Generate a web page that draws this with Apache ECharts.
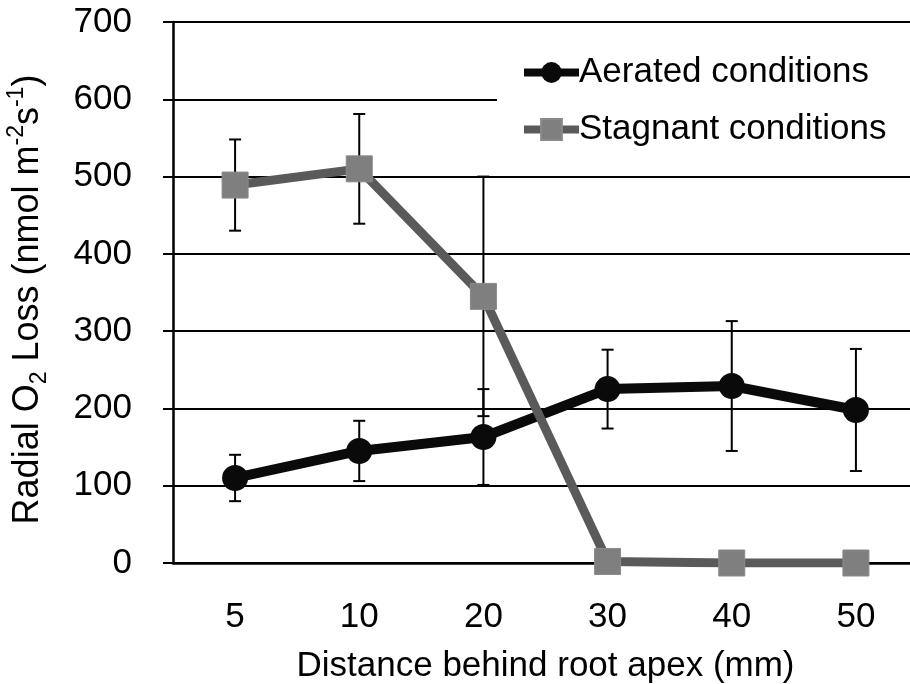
<!DOCTYPE html>
<html>
<head>
<meta charset="utf-8">
<script src="https://cdn.jsdelivr.net/npm/echarts@6/dist/echarts.min.js"></script>
<style>html,body{margin:0;padding:0;background:#fff}#c{width:910px;height:684px}</style>
</head>
<body>
<div id="c"></div>
<script>
const categories = ['5', '10', '20', '30', '40', '50'];
const aerated = [110, 145, 163, 225, 229, 198];
const aeratedErr = [30, 39, 62, 51, 84, 79];
const stagnant = [489, 510, 345, 2, 0, 0];
const stagnantErr = [59, 71, 155, 0, 0, 0];
const yTicks = [0, 100, 200, 300, 400, 500, 600, 700];

const FONT = '"Liberation Sans", Arial, Helvetica, sans-serif';
const FS = 35;

function errData(vals, errs) {
  return vals.map((v, i) => [i, v - errs[i], v + errs[i]]);
}
function errRender(params, api) {
  const x = api.value(0);
  const lo = api.coord([x, api.value(1)]);
  const hi = api.coord([x, api.value(2)]);
  const w = 6;
  const st = { stroke: '#000', lineWidth: 2 };
  return {
    type: 'group',
    children: [
      { type: 'line', shape: { x1: hi[0], y1: hi[1], x2: lo[0], y2: lo[1] }, style: st },
      { type: 'line', shape: { x1: hi[0] - w, y1: hi[1], x2: hi[0] + w, y2: hi[1] }, style: st },
      { type: 'line', shape: { x1: lo[0] - w, y1: lo[1], x2: lo[0] + w, y2: lo[1] }, style: st }
    ]
  };
}

const chart = echarts.init(document.getElementById('c'));
chart.setOption({
  animation: false,
  backgroundColor: '#fff',
  textStyle: { fontFamily: FONT },
  grid: { left: 173, right: -8, top: 22, bottom: 121, containLabel: false, outerBoundsMode: 'none' },
  legend: {
    orient: 'vertical',
    left: 497,
    top: 24,
    padding: [31, 120, 28, 23],
    backgroundColor: '#fff',
    itemWidth: 55,
    itemHeight: 26,
    itemGap: 22,
    lineStyle: { width: 8 },
    textStyle: { fontFamily: FONT, fontSize: FS, color: '#000', padding: [0, 0, 0, -5] },
    data: ['Aerated conditions', 'Stagnant conditions']
  },
  xAxis: {
    type: 'category',
    data: categories,
    boundaryGap: true,
    name: 'Distance behind root apex (mm)',
    nameLocation: 'middle',
    nameGap: 86,
    nameTextStyle: { fontFamily: FONT, fontSize: FS, color: '#000' },
    axisLine: { lineStyle: { color: '#000', width: 2.5 } },
    axisTick: { alignWithLabel: true, length: 15, lineStyle: { color: '#000', width: 2, shadowColor: 'rgba(0,0,0,0.35)', shadowBlur: 4, shadowOffsetY: 3 } },
    axisLabel: { fontFamily: FONT, fontSize: FS, color: '#000', margin: 37 },
    splitLine: { show: false }
  },
  yAxis: {
    type: 'value',
    min: 0,
    max: 700,
    interval: 100,
    name: '{n|Radial O}{sub|2}{n| Loss (nmol m}{sup|-2}{n|s}{sup|-1}{n|)}',
    nameLocation: 'middle',
    nameRotate: 90,
    nameGap: 122,
    nameTextStyle: {
      fontFamily: FONT, fontSize: 36, color: '#000', padding: [0, 14, 0, 0],
      rich: {
        n: { fontFamily: FONT, fontSize: 36, color: '#000', lineHeight: 46, verticalAlign: 'middle' },
        sub: { fontFamily: FONT, fontSize: 23, color: '#000', lineHeight: 22, verticalAlign: 'bottom' },
        sup: { fontFamily: FONT, fontSize: 23, color: '#000', lineHeight: 22, verticalAlign: 'top' }
      }
    },
    axisLine: { show: true, lineStyle: { color: '#000', width: 2.5 } },
    axisTick: { show: true, length: 10, lineStyle: { color: '#000', width: 2 } },
    axisLabel: {
      fontFamily: FONT, fontSize: FS, color: '#000', margin: 41,
      formatter: v => (yTicks.indexOf(v) >= 0 ? String(v) : '')
    },
    splitLine: { show: true, lineStyle: { color: '#000', width: 2 } }
  },
  series: [
    {
      type: 'custom',
      name: 'errA',
      renderItem: errRender,
      data: errData(aerated, aeratedErr),
      z: 1,
      silent: true
    },
    {
      type: 'custom',
      name: 'errS',
      renderItem: errRender,
      data: errData(stagnant, stagnantErr),
      z: 1,
      silent: true
    },
    {
      name: 'Aerated conditions',
      type: 'line',
      data: aerated,
      symbol: 'circle',
      symbolSize: 26,
      lineStyle: { color: '#0a0a0a', width: 10 },
      itemStyle: { color: '#0a0a0a' },
      z: 3
    },
    {
      name: 'Stagnant conditions',
      type: 'line',
      data: stagnant,
      symbol: 'rect',
      symbolSize: 26,
      lineStyle: { color: '#5a5a5a', width: 9 },
      itemStyle: { color: '#7f7f7f', borderColor: '#8a8a8a', borderWidth: 1 },
      z: 4
    }
  ]
});
</script>
</body>
</html>
